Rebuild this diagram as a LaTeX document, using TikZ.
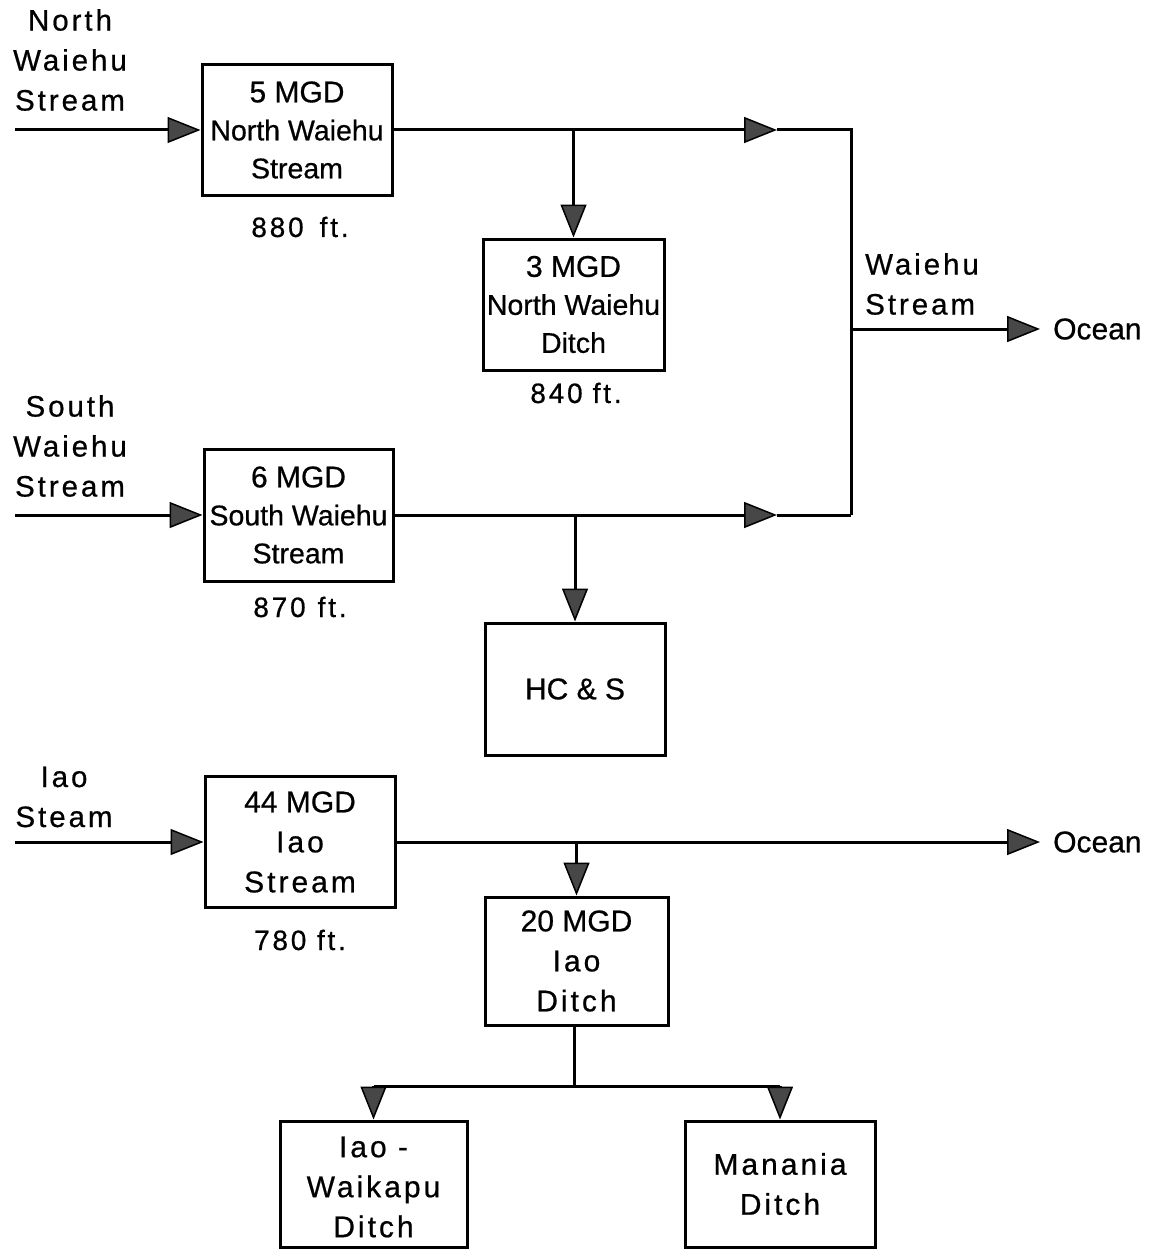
\documentclass[tikz,border=0pt]{standalone}
\usepackage{fontspec}
\setmainfont[FakeBold=0.6]{Liberation Sans}
\newfontfamily\spc[LetterSpace=10,FakeBold=0.6]{Liberation Sans}
\usetikzlibrary{arrows.meta}
\tikzset{
  flow/.style={line width=3pt},
  arr/.style={flow,-{Triangle[length=33pt,width=26pt,line width=1.5pt,fill=black!72]}},
  box/.style={draw,line width=3pt,align=center,inner sep=0pt,
    font=\fontsize{28.5}{38}\selectfont},
  bigbox/.style={box,font=\fontsize{30}{40}\selectfont},
  lbl/.style={align=center,inner sep=0pt,font=\spc\fontsize{29.5}{40}\selectfont},
  ftlbl/.style={inner sep=0pt,font=\spc\fontsize{28}{32}\selectfont},
  ocean/.style={anchor=west,inner sep=0pt,font=\fontsize{30}{36}\selectfont},
}
\begin{document}
\begin{tikzpicture}[x=1pt,y=-1pt]
\useasboundingbox (0,0) rectangle (1148,1252);

% boxes
\node[box,minimum width=190pt,minimum height=131pt] (b1) at (297,130)
  {{\fontsize{30}{38}\selectfont 5 MGD}\\North Waiehu\\Stream};
\node[box,minimum width=181pt,minimum height=131pt] (b2) at (573.5,304.5)
  {{\fontsize{30}{38}\selectfont 3 MGD}\\North Waiehu\\Ditch};
\node[box,minimum width=189pt,minimum height=132pt] (b3) at (298.5,515)
  {{\fontsize{30}{38}\selectfont 6 MGD}\\South Waiehu\\Stream};
\node[box,minimum width=180pt,minimum height=132pt] (b4) at (575,689)
  {{\fontsize{30}{38}\selectfont HC \& S}};
\node[bigbox,minimum width=190pt,minimum height=131pt] (b5) at (300,842)
  {44 MGD\\{\spc Iao}\\{\spc Stream}};
\node[bigbox,minimum width=183pt,minimum height=128pt] (b6) at (576.5,961)
  {20 MGD\\{\spc Iao}\\{\spc Ditch}};
\node[bigbox,minimum width=187pt,minimum height=126pt,
  label={[name=b7t,font=\spc\fontsize{30}{40}\selectfont,align=center,yshift=-3pt]center:Iao -\\Waikapu\\Ditch}]
  (b7) at (373.5,1184) {};
\node[bigbox,minimum width=190pt,minimum height=126pt] (b8) at (780,1184)
  {{\spc Manania}\\{\spc Ditch}};

% labels
\node[lbl] (l1) at (70,60) {North\\Waiehu\\Stream};
\node[lbl] (l2) at (70,446) {South\\Waiehu\\Stream};
\node[lbl] (l3) at (64,797) {Iao\\Steam};
\node[lbl,anchor=west,align=left] (l4) at (865,284) {Waiehu\\Stream};
\node[ftlbl] (f1) at (300,227) {880\hspace{16pt}ft.};
\node[ftlbl] (f2) at (576,393) {840\hspace{10pt}ft.};
\node[ftlbl] (f3) at (300,607) {870\hspace{12pt}ft.};
\node[ftlbl] (f4) at (300,940) {780 ft.};
\node[ocean] (o1) at (1053,329) {Ocean};
\node[ocean] (o2) at (1053,842) {Ocean};

% coordinates
\coordinate (s1) at (15,130);
\coordinate (s2) at (15,515);
\coordinate (s3) at (15,842);
\coordinate (m1) at (777,130);
\coordinate (m2) at (777,515);
\coordinate (r1) at (851,130);
\coordinate (r2) at (851,515);
\coordinate (r3) at (851,329);
\coordinate (t1) at (1040,329);
\coordinate (t2) at (1040,842);
\coordinate (d1) at (574,1086);
\coordinate (d2) at (b7.north |- d1);
\coordinate (d3) at (b8.north |- d1);

% inflows
\draw[arr] (s1) -- (b1.west |- s1);
\draw[arr] (s2) -- (b3.west |- s2);
\draw[arr] (s3) -- (b5.west |- s3);

% north waiehu
\draw[arr] (b1.east |- s1) -- (m1);
\draw[flow] (m1) -- (r1) -- (r2);
\draw[arr] (b2.north |- s1) -- (b2.north);

% south waiehu
\draw[arr] (b3.east |- s2) -- (m2);
\draw[flow] (m2) -- (r2);
\draw[arr] (b4.north |- s2) -- (b4.north);

% waiehu stream to ocean
\draw[arr] (r3) -- (t1);

% iao
\draw[arr] (b5.east |- s3) -- (t2);
\draw[arr] (b6.north |- s3) -- (b6.north);
\draw[flow] (b6.south -| d1) -- (d1);
\draw[flow] (d2) -- (d3);
\draw[arr] (d2) -- (b7.north);
\draw[arr] (d3) -- (b8.north);
\end{tikzpicture}
\end{document}
